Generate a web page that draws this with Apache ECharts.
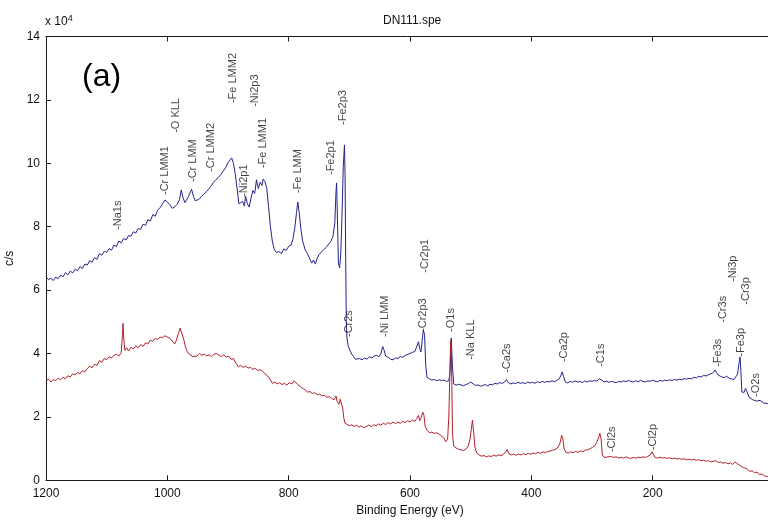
<!DOCTYPE html>
<html>
<head>
<meta charset="utf-8">
<script src="https://cdn.jsdelivr.net/npm/echarts@6/dist/echarts.min.js"></script>
<style>
html,body{margin:0;padding:0;background:#fff;}
#chart{width:768px;height:521px;}
</style>
</head>
<body>
<div id="chart"></div>
<script>
// Binding energy (eV) vs intensity (x10^4 c/s)
var bluePoints = [[1200,6.42],[1196,6.33],[1192,6.38],[1188,6.30],[1184,6.41],[1180,6.36],[1176,6.47],[1172,6.42],[1168,6.55],[1164,6.48],[1160,6.60],[1156,6.54],[1152,6.66],[1148,6.61],[1144,6.74],[1140,6.68],[1136,6.82],[1132,6.79],[1128,6.93],[1124,6.88],[1120,7.02],[1116,6.97],[1112,7.15],[1108,7.10],[1104,7.22],[1100,7.19],[1096,7.31],[1092,7.26],[1088,7.42],[1084,7.37],[1080,7.55],[1076,7.49],[1072,7.63],[1068,7.58],[1064,7.72],[1060,7.70],[1056,7.84],[1052,7.80],[1048,7.95],[1044,7.91],[1040,8.08],[1036,8.04],[1032,8.22],[1028,8.18],[1024,8.38],[1020,8.33],[1016,8.52],[1012,8.60],[1008,8.72],[1004,8.84],[1000,8.78],[996,8.70],[992,8.58],[988,8.62],[984,8.70],[980,8.85],[977,9.16],[974,8.90],[971,8.76],[968,8.80],[965,8.95],[962,9.10],[960,9.18],[957,8.96],[954,8.82],[951,8.76],[948,8.86],[944,8.95],[940,9.02],[936,9.10],[932,9.18],[928,9.28],[924,9.40],[920,9.48],[916,9.55],[912,9.64],[908,9.75],[904,9.86],[900,10.02],[897,9.98],[894,10.17],[891,10.0],[888,9.65],[885,9.20],[882,8.72],[879,8.66],[876,8.80],[873,8.65],[871,8.96],[868,8.72],[865,8.62],[862,8.90],[859,9.14],[856,9.05],[853,9.48],[850,9.20],[847,9.40],[844,9.30],[842,9.50],[839,9.42],[836,9.20],[833,8.60],[830,8.00],[827,7.55],[824,7.30],[820,7.18],[816,7.22],[812,7.15],[808,7.30],[804,7.25],[800,7.38],[796,7.42],[793,7.60],[790,7.95],[787,8.45],[785,8.78],[783,8.50],[780,7.95],[777,7.55],[773,7.28],[769,7.15],[765,6.98],[762,6.85],[759,6.95],[756,6.82],[753,7.00],[750,7.12],[746,7.20],[742,7.28],[738,7.35],[734,7.45],[730,7.55],[727,7.70],[724,8.10],[722,9.10],[721,9.38],[720,8.60],[718,6.85],[716,6.70],[714,7.20],[712,8.40],[710,9.90],[708,10.58],[707,9.60],[706,7.00],[705,5.00],[704,4.50],[702,4.25],[699,4.10],[696,3.98],[693,3.90],[690,3.82],[687,3.78],[683,3.84],[679,3.80],[675,3.86],[671,3.82],[667,3.90],[663,3.86],[659,3.92],[655,3.94],[651,3.90],[648,4.00],[645,4.22],[643,4.12],[640,3.92],[636,3.88],[632,3.82],[628,3.80],[624,3.86],[620,3.84],[616,3.90],[612,3.88],[608,3.94],[604,3.97],[600,4.00],[596,4.04],[592,4.06],[589,4.12],[586,4.37],[584,4.15],[582,4.05],[580,4.40],[578,4.74],[576,4.60],[574,3.60],[572,3.25],[568,3.20],[564,3.16],[560,3.18],[556,3.14],[552,3.17],[548,3.15],[544,3.16],[540,3.12],[536,3.14],[534,3.40],[532,4.49],[530,3.60],[528,3.04],[524,3.00],[520,3.03],[516,3.01],[512,2.98],[508,3.02],[504,3.05],[500,3.10],[496,3.04],[492,2.99],[488,3.01],[484,2.97],[480,2.99],[476,3.02],[472,2.98],[468,3.03],[464,3.01],[460,3.06],[456,3.04],[452,3.08],[448,3.06],[444,3.10],[441,3.18],[438,3.08],[434,3.04],[430,3.07],[426,3.05],[422,3.09],[418,3.06],[414,3.08],[410,3.05],[406,3.10],[402,3.07],[398,3.09],[394,3.06],[390,3.11],[386,3.08],[382,3.12],[378,3.09],[374,3.12],[370,3.10],[366,3.14],[362,3.11],[358,3.15],[354,3.20],[351,3.32],[349,3.42],[347,3.28],[344,3.10],[340,3.07],[336,3.12],[332,3.09],[328,3.14],[324,3.10],[320,3.12],[316,3.08],[312,3.13],[308,3.10],[304,3.14],[300,3.12],[296,3.15],[292,3.13],[288,3.20],[286,3.26],[284,3.16],[280,3.10],[276,3.13],[272,3.09],[268,3.12],[264,3.10],[260,3.08],[256,3.12],[252,3.10],[248,3.14],[244,3.11],[240,3.15],[236,3.12],[232,3.10],[228,3.14],[224,3.11],[220,3.15],[216,3.12],[212,3.10],[208,3.14],[204,3.12],[200,3.16],[196,3.13],[192,3.11],[188,3.15],[184,3.13],[180,3.16],[176,3.14],[172,3.17],[168,3.15],[164,3.18],[160,3.16],[156,3.19],[152,3.17],[148,3.21],[144,3.19],[140,3.22],[136,3.20],[132,3.25],[128,3.23],[124,3.28],[120,3.26],[116,3.31],[112,3.29],[108,3.33],[104,3.36],[100,3.40],[97,3.48],[95,3.40],[92,3.32],[89,3.30],[86,3.26],[82,3.24],[78,3.28],[74,3.22],[70,3.20],[66,3.18],[63,3.22],[60,3.35],[58,3.65],[56,3.89],[55,3.60],[54,3.20],[53,2.78],[51,2.74],[49,2.78],[47,2.90],[45,2.82],[43,2.72],[41,2.62],[38,2.58],[35,2.54],[32,2.56],[29,2.50],[26,2.48],[23,2.52],[20,2.46],[17,2.44],[14,2.48],[11,2.42],[8,2.44],[4,2.40],[0,2.38]];

var redPoints = [[1200,3.12],[1196,3.20],[1192,3.10],[1188,3.18],[1184,3.14],[1180,3.22],[1176,3.17],[1172,3.25],[1168,3.20],[1164,3.30],[1160,3.26],[1156,3.36],[1152,3.32],[1148,3.40],[1144,3.36],[1140,3.46],[1136,3.42],[1132,3.52],[1128,3.60],[1124,3.55],[1120,3.66],[1116,3.62],[1112,3.78],[1108,3.72],[1104,3.84],[1100,3.80],[1096,3.90],[1092,3.86],[1088,3.94],[1084,3.98],[1080,3.92],[1076,4.02],[1074,4.60],[1073,4.95],[1072,4.50],[1070,4.10],[1067,4.18],[1064,4.08],[1060,4.20],[1056,4.14],[1052,4.24],[1048,4.18],[1044,4.28],[1040,4.22],[1036,4.34],[1032,4.30],[1028,4.42],[1024,4.38],[1020,4.48],[1016,4.44],[1012,4.52],[1008,4.50],[1004,4.56],[1000,4.52],[996,4.48],[992,4.40],[988,4.30],[985,4.42],[982,4.62],[979,4.80],[976,4.76],[973,4.45],[970,4.20],[967,4.05],[964,3.98],[961,4.02],[958,3.90],[955,3.96],[951,3.92],[947,4.00],[943,3.94],[939,3.98],[935,3.92],[931,3.96],[927,3.90],[923,3.98],[919,4.00],[915,3.95],[911,3.90],[907,3.96],[903,3.88],[899,3.92],[895,3.82],[891,3.84],[887,3.70],[883,3.58],[879,3.62],[875,3.56],[871,3.60],[867,3.54],[863,3.56],[859,3.50],[855,3.53],[851,3.46],[847,3.49],[843,3.44],[839,3.36],[835,3.30],[831,3.20],[827,3.06],[823,3.10],[819,3.04],[815,3.08],[811,3.02],[807,3.06],[803,3.00],[799,3.08],[795,3.04],[791,3.14],[788,3.08],[785,3.02],[781,2.96],[777,2.90],[773,2.86],[769,2.78],[765,2.80],[761,2.74],[757,2.76],[753,2.70],[749,2.72],[745,2.66],[741,2.68],[737,2.62],[733,2.64],[729,2.58],[725,2.54],[722,2.66],[720,2.48],[717,2.40],[715,2.56],[713,2.50],[711,2.28],[709,1.95],[707,1.80],[704,1.76],[700,1.72],[696,1.75],[692,1.70],[688,1.74],[684,1.68],[680,1.72],[676,1.66],[672,1.70],[668,1.74],[664,1.69],[660,1.75],[656,1.72],[652,1.78],[648,1.74],[644,1.80],[640,1.76],[636,1.82],[632,1.78],[628,1.84],[624,1.79],[620,1.83],[616,1.80],[612,1.86],[608,1.82],[604,1.88],[600,1.84],[596,1.90],[592,1.86],[589,1.95],[586,2.05],[584,1.88],[582,1.96],[579,2.15],[577,2.05],[575,1.70],[572,1.58],[568,1.50],[564,1.52],[560,1.48],[556,1.50],[552,1.46],[548,1.40],[544,1.32],[541,1.22],[538,1.30],[536,2.00],[534,3.60],[533,4.40],[532,4.30],[531,3.00],[530,1.50],[528,1.08],[524,1.02],[520,0.98],[516,0.96],[512,0.94],[508,0.98],[504,1.08],[501,1.30],[499,1.60],[497,1.90],[495,1.50],[493,1.05],[490,0.86],[486,0.80],[482,0.76],[478,0.78],[474,0.74],[470,0.77],[466,0.75],[462,0.79],[458,0.76],[454,0.80],[450,0.78],[446,0.82],[442,0.90],[440,0.97],[437,0.84],[433,0.80],[429,0.82],[425,0.79],[421,0.83],[417,0.80],[413,0.84],[409,0.81],[405,0.85],[401,0.82],[397,0.86],[393,0.84],[389,0.88],[385,0.85],[381,0.90],[377,0.87],[373,0.91],[369,0.92],[365,0.95],[361,0.97],[357,1.02],[353,1.15],[350,1.42],[348,1.30],[346,1.00],[343,0.88],[339,0.86],[335,0.90],[331,0.87],[327,0.91],[323,0.88],[319,0.93],[315,0.90],[311,0.95],[307,0.96],[303,1.00],[299,1.04],[295,1.10],[292,1.20],[289,1.35],[287,1.48],[285,1.30],[283,0.80],[280,0.72],[277,0.76],[274,0.74],[271,0.80],[268,0.75],[264,0.72],[260,0.74],[256,0.70],[252,0.73],[248,0.70],[244,0.74],[240,0.71],[236,0.69],[232,0.72],[228,0.70],[224,0.73],[220,0.71],[216,0.74],[212,0.72],[208,0.76],[204,0.80],[201,0.90],[199,0.82],[196,0.72],[192,0.70],[188,0.73],[184,0.70],[180,0.72],[176,0.69],[172,0.71],[168,0.68],[164,0.70],[160,0.67],[156,0.69],[152,0.66],[148,0.68],[144,0.65],[140,0.67],[136,0.64],[132,0.66],[128,0.63],[124,0.65],[120,0.62],[116,0.63],[112,0.60],[108,0.62],[104,0.58],[100,0.60],[96,0.62],[92,0.56],[88,0.58],[84,0.54],[80,0.56],[76,0.52],[72,0.55],[68,0.50],[64,0.58],[62,0.62],[60,0.52],[57,0.46],[54,0.44],[50,0.40],[47,0.34],[44,0.36],[40,0.28],[36,0.30],[32,0.24],[28,0.26],[24,0.18],[20,0.20],[16,0.14],[12,0.12],[8,0.10],[4,0.08],[0,0.06]];

// Peak annotations: name, energy (eV), label start height (x10^4 c/s)
var peakNames  = ['-Na1s','-Cr LMM1','-O KLL','-Cr LMM','-Cr LMM2','-Fe LMM2','-Ni2p3','-Ni2p1','-Fe LMM1','-Fe LMM','-Fe2p1','-Fe2p3','-Cr2s','-Ni LMM','-Cr2p1','-Cr2p3','-O1s','-Na KLL','-Ca2s','-Ca2p','-C1s','-Fe3s','-Cr3s','-Ni3p','-Cr3p','-Fe3p','-O2s','-Cl2s','-Cl2p'];
var peakEnergy = [1081,1004,986,958,928,892,856,874,843,785,731,711,700,642,576,578,533,500,440,347,286,92,84,67,46,54,30,267,199];
var peakLabelY = [7.90,9.00,10.96,9.41,9.73,11.90,11.78,8.94,9.85,9.06,9.63,11.21,4.52,4.52,6.55,4.68,4.68,3.80,3.39,3.73,3.58,3.58,4.97,6.26,5.54,3.90,2.63,0.89,0.95];

var xTicks = [1200,1000,800,600,400,200,0];
var yTicks = [0,2,4,6,8,10,12,14];

var chart = echarts.init(document.getElementById('chart'), null, {renderer:'canvas'});
var FONT = 'Liberation Sans, Arial, sans-serif';
var axisColor = '#1a1a1a';

var peakData = peakNames.map(function(n,i){ return [peakEnergy[i], peakLabelY[i], n]; });

var option = {
  animation: false,
  backgroundColor: '#ffffff',
  textStyle: {fontFamily: FONT},
  grid: {left: 46, right: -6, top: 36.5, bottom: 40.7, containLabel: false, outerBoundsMode: 'none'},
  xAxis: [{
    type: 'value', min: xTicks[xTicks.length-1], max: xTicks[0], interval: 200, inverse: true,
    position: 'bottom',
    name: 'Binding Energy (eV)', nameLocation: 'middle', nameGap: 22,
    nameTextStyle: {fontSize: 12, color: '#111', fontFamily: FONT},
    axisLine: {show: true, onZero: false, lineStyle: {color: axisColor, width: 1}},
    axisTick: {show: true, inside: true, length: 5, lineStyle: {color: axisColor}},
    axisLabel: {fontSize: 12, color: '#111', margin: 7, fontFamily: FONT, formatter: function(v){ return String(v); }},
    splitLine: {show: false}
  },{
    type: 'value', min: xTicks[xTicks.length-1], max: xTicks[0], interval: 200, inverse: true,
    position: 'top',
    axisLine: {show: true, onZero: false, lineStyle: {color: axisColor, width: 1}},
    axisTick: {show: true, inside: true, length: 5, lineStyle: {color: axisColor}},
    axisLabel: {show: false},
    splitLine: {show: false}
  }],
  yAxis: [{
    type: 'value', min: yTicks[0], max: yTicks[yTicks.length-1], interval: 2,
    position: 'left',
    name: 'c/s', nameLocation: 'middle', nameGap: 26, nameRotate: 90,
    nameTextStyle: {fontSize: 12, color: '#111', fontFamily: FONT},
    axisLine: {show: true, onZero: false, lineStyle: {color: axisColor, width: 1}},
    axisTick: {show: true, inside: true, length: 5, lineStyle: {color: axisColor}},
    axisLabel: {fontSize: 12, color: '#111', margin: 6, fontFamily: FONT, formatter: function(v){ return String(v); }},
    splitLine: {show: false}
  },{
    type: 'value', min: yTicks[0], max: yTicks[yTicks.length-1], interval: 2,
    position: 'right',
    axisLine: {show: true, onZero: false, lineStyle: {color: axisColor, width: 1}},
    axisTick: {show: true, inside: true, length: 5, lineStyle: {color: axisColor}},
    axisLabel: {show: false},
    splitLine: {show: false}
  }],
  graphic: [
    {type: 'text', left: 383, top: 15, style: {text: 'DN111.spe', font: '12px ' + FONT, fill: '#111'}},
    {type: 'text', left: 45, top: 14, style: {
      text: 'x 10{sup|4}', font: '12px ' + FONT, fill: '#111',
      rich: {sup: {fontSize: 9, verticalAlign: 'top', padding: [0,0,7,0], fill: '#111', fontFamily: FONT}}
    }},
    {type: 'text', left: 82, top: 61, style: {text: '(a)', font: '32px ' + FONT, fill: '#000'}}
  ],
  series: [{
    type: 'line', name: 'blue', data: bluePoints, xAxisIndex: 0, yAxisIndex: 0,
    showSymbol: false, symbol: 'none', z: 2,
    lineStyle: {color: '#23238c', width: 1}
  },{
    type: 'line', name: 'red', data: redPoints, xAxisIndex: 0, yAxisIndex: 0,
    showSymbol: false, symbol: 'none', z: 3,
    lineStyle: {color: '#b0202c', width: 1}
  },{
    type: 'scatter', name: 'peaks', data: peakData, xAxisIndex: 0, yAxisIndex: 0,
    symbolSize: 0, z: 4, silent: true,
    label: {
      show: true, position: 'inside', rotate: 90, align: 'left', verticalAlign: 'middle',
      formatter: function(p){ return p.data[2]; },
      fontSize: 11, color: '#111', fontFamily: FONT
    }
  }]
};
chart.setOption(option);
</script>
</body>
</html>
